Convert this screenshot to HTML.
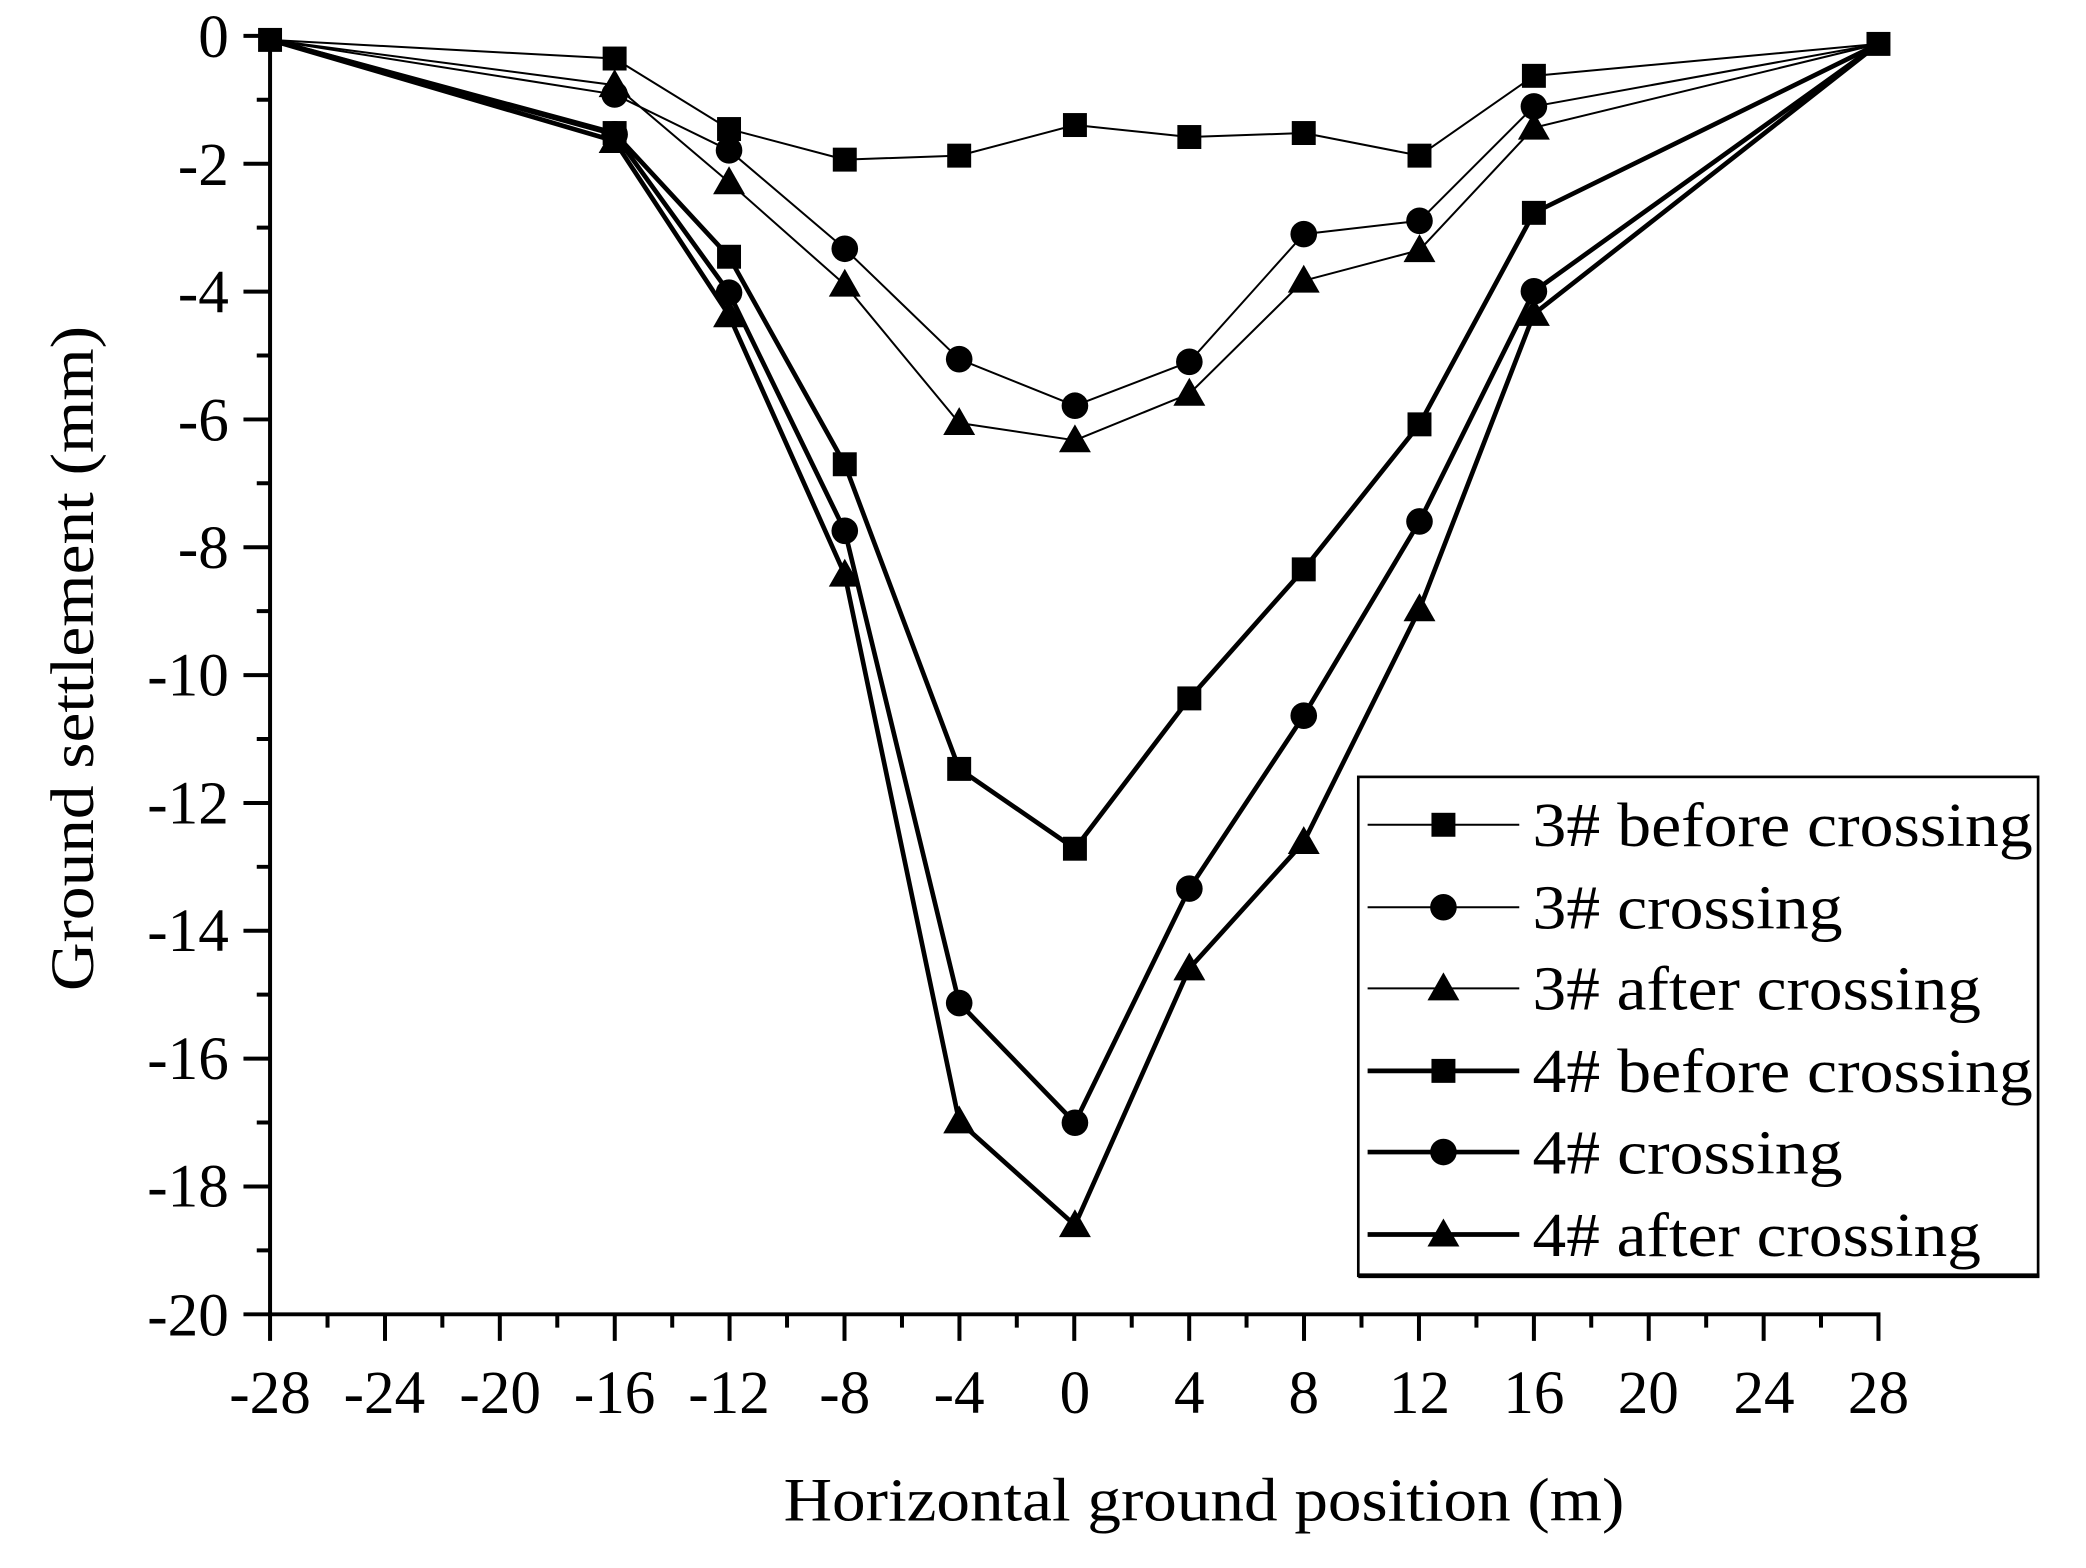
<!DOCTYPE html>
<html><head><meta charset="utf-8"><style>html,body{margin:0;padding:0;background:#fff}svg{display:block}</style></head>
<body>
<svg width="2086" height="1568" viewBox="0 0 1568 1178.7" preserveAspectRatio="none" xmlns="http://www.w3.org/2000/svg" font-family="'Liberation Serif', serif">
<defs>
<rect id="sq" x="-9" y="-9" width="18" height="18" fill="#000"/>
<circle id="ci" r="10" fill="#000"/>
<polygon id="tr" points="0,-12 12,9 -12,9" fill="#000"/>
</defs>
<g stroke="#000" fill="none" stroke-linejoin="round">
<polyline stroke-width="1.5" points="203,30 462,44 548,97 635,120 721,117 808,94 894,103 980,100 1067,117 1153,57 1412,33"/>
<polyline stroke-width="1.5" points="203,30 462,71 548,113 635,187 721,270 808,305 894,272 980,176 1067,166 1153,80 1412,33"/>
<polyline stroke-width="1.5" points="203,30 462,64 548,137 635,214 721,318 808,331 894,296 980,211 1067,188 1153,96 1412,33"/>
<polyline stroke-width="3.5" points="203,30 462,100 548,193 635,349 721,578 808,638 894,525 980,428 1067,319 1153,160 1412,33"/>
<polyline stroke-width="3.5" points="203,30 462,101 548,220 635,399 721,754 808,844 894,668 980,538 1067,392 1153,219 1412,33"/>
<polyline stroke-width="3.5" points="203,30 462,106 548,237 635,432 721,843 808,921 894,728 980,633 1067,458 1153,236 1412,33"/>
</g>
<g>
<use href="#sq" x="203" y="30"/><use href="#sq" x="462" y="44"/><use href="#sq" x="548" y="97"/><use href="#sq" x="635" y="120"/><use href="#sq" x="721" y="117"/><use href="#sq" x="808" y="94"/><use href="#sq" x="894" y="103"/><use href="#sq" x="980" y="100"/><use href="#sq" x="1067" y="117"/><use href="#sq" x="1153" y="57"/><use href="#sq" x="1412" y="33"/>
<use href="#ci" x="462" y="71"/><use href="#ci" x="548" y="113"/><use href="#ci" x="635" y="187"/><use href="#ci" x="721" y="270"/><use href="#ci" x="808" y="305"/><use href="#ci" x="894" y="272"/><use href="#ci" x="980" y="176"/><use href="#ci" x="1067" y="166"/><use href="#ci" x="1153" y="80"/>
<use href="#tr" x="462" y="64"/><use href="#tr" x="548" y="137"/><use href="#tr" x="635" y="214"/><use href="#tr" x="721" y="318"/><use href="#tr" x="808" y="331"/><use href="#tr" x="894" y="296"/><use href="#tr" x="980" y="211"/><use href="#tr" x="1067" y="188"/><use href="#tr" x="1153" y="96"/>
<use href="#sq" x="462" y="100"/><use href="#sq" x="548" y="193"/><use href="#sq" x="635" y="349"/><use href="#sq" x="721" y="578"/><use href="#sq" x="808" y="638"/><use href="#sq" x="894" y="525"/><use href="#sq" x="980" y="428"/><use href="#sq" x="1067" y="319"/><use href="#sq" x="1153" y="160"/>
<use href="#ci" x="462" y="101"/><use href="#ci" x="548" y="220"/><use href="#ci" x="635" y="399"/><use href="#ci" x="721" y="754"/><use href="#ci" x="808" y="844"/><use href="#ci" x="894" y="668"/><use href="#ci" x="980" y="538"/><use href="#ci" x="1067" y="392"/><use href="#ci" x="1153" y="219"/>
<use href="#tr" x="462" y="106"/><use href="#tr" x="548" y="237"/><use href="#tr" x="635" y="432"/><use href="#tr" x="721" y="843"/><use href="#tr" x="808" y="921"/><use href="#tr" x="894" y="728"/><use href="#tr" x="980" y="633"/><use href="#tr" x="1067" y="458"/><use href="#tr" x="1153" y="236"/>
</g>
<g stroke="#000" stroke-width="3">
<line x1="203" y1="25.5" x2="203" y2="989.5"/>
<line x1="201.5" y1="988" x2="1413.5" y2="988"/>
<path d="M183,27H203M183,123.1H203M183,219.2H203M183,315.3H203M183,411.4H203M183,507.5H203M183,603.6H203M183,699.7H203M183,795.8H203M183,891.9H203M183,988H203"/>
<path d="M193,75H203M193,171.1H203M193,267.2H203M193,363.3H203M193,459.4H203M193,555.5H203M193,651.6H203M193,747.7H203M193,843.8H203M193,939.9H203"/>
<path d="M203,988V1008M289.4,988V1008M375.7,988V1008M462.1,988V1008M548.4,988V1008M634.8,988V1008M721.2,988V1008M807.5,988V1008M893.9,988V1008M980.2,988V1008M1066.6,988V1008M1153,988V1008M1239.3,988V1008M1325.7,988V1008M1412,988V1008"/>
<path d="M246.2,988V998M332.5,988V998M418.9,988V998M505.3,988V998M591.6,988V998M678,988V998M764.3,988V998M850.7,988V998M937,988V998M1023.4,988V998M1109.8,988V998M1196.1,988V998M1282.5,988V998M1368.8,988V998"/>
</g>
<g font-size="46" text-anchor="end">
<text x="172" y="43">0</text><text x="172" y="139">-2</text><text x="172" y="235">-4</text><text x="172" y="331">-6</text><text x="172" y="427">-8</text><text x="172" y="523">-10</text><text x="172" y="619">-12</text><text x="172" y="715">-14</text><text x="172" y="811">-16</text><text x="172" y="907">-18</text><text x="172" y="1004">-20</text>
</g>
<g font-size="46" text-anchor="middle">
<text x="203" y="1062">-28</text><text x="289" y="1062">-24</text><text x="376" y="1062">-20</text><text x="462" y="1062">-16</text><text x="548" y="1062">-12</text><text x="635" y="1062">-8</text><text x="721" y="1062">-4</text><text x="808" y="1062">0</text><text x="894" y="1062">4</text><text x="980" y="1062">8</text><text x="1067" y="1062">12</text><text x="1153" y="1062">16</text><text x="1239" y="1062">20</text><text x="1326" y="1062">24</text><text x="1412" y="1062">28</text>
<text x="905" y="1143" textLength="632" lengthAdjust="spacingAndGlyphs">Horizontal ground position (m)</text>
<text transform="translate(70,495) rotate(-90)" textLength="500" lengthAdjust="spacingAndGlyphs">Ground settlement (mm)</text>
</g>
<rect x="1021" y="584" width="511" height="375" fill="#fff" stroke="#000" stroke-width="2"/>
<line x1="1021" y1="959" x2="1533" y2="959" stroke="#000" stroke-width="3.5"/>
<g stroke="#000">
<line x1="1028" y1="620" x2="1142" y2="620" stroke-width="1.5"/>
<line x1="1028" y1="682" x2="1142" y2="682" stroke-width="1.5"/>
<line x1="1028" y1="743" x2="1142" y2="743" stroke-width="1.5"/>
<line x1="1028" y1="805" x2="1142" y2="805" stroke-width="3.5"/>
<line x1="1028" y1="866" x2="1142" y2="866" stroke-width="3.5"/>
<line x1="1028" y1="928" x2="1142" y2="928" stroke-width="3.5"/>
</g>
<use href="#sq" x="1085" y="620"/><use href="#ci" x="1085" y="682"/><use href="#tr" x="1085" y="743"/>
<use href="#sq" x="1085" y="805"/><use href="#ci" x="1085" y="866"/><use href="#tr" x="1085" y="928"/>
<g font-size="47">
<text x="1152" y="636" textLength="376" lengthAdjust="spacingAndGlyphs">3# before crossing</text>
<text x="1152" y="698" textLength="233" lengthAdjust="spacingAndGlyphs">3# crossing</text>
<text x="1152" y="759" textLength="337" lengthAdjust="spacingAndGlyphs">3# after crossing</text>
<text x="1152" y="821" textLength="376" lengthAdjust="spacingAndGlyphs">4# before crossing</text>
<text x="1152" y="882" textLength="233" lengthAdjust="spacingAndGlyphs">4# crossing</text>
<text x="1152" y="944" textLength="337" lengthAdjust="spacingAndGlyphs">4# after crossing</text>
</g>
</svg>
</body></html>
